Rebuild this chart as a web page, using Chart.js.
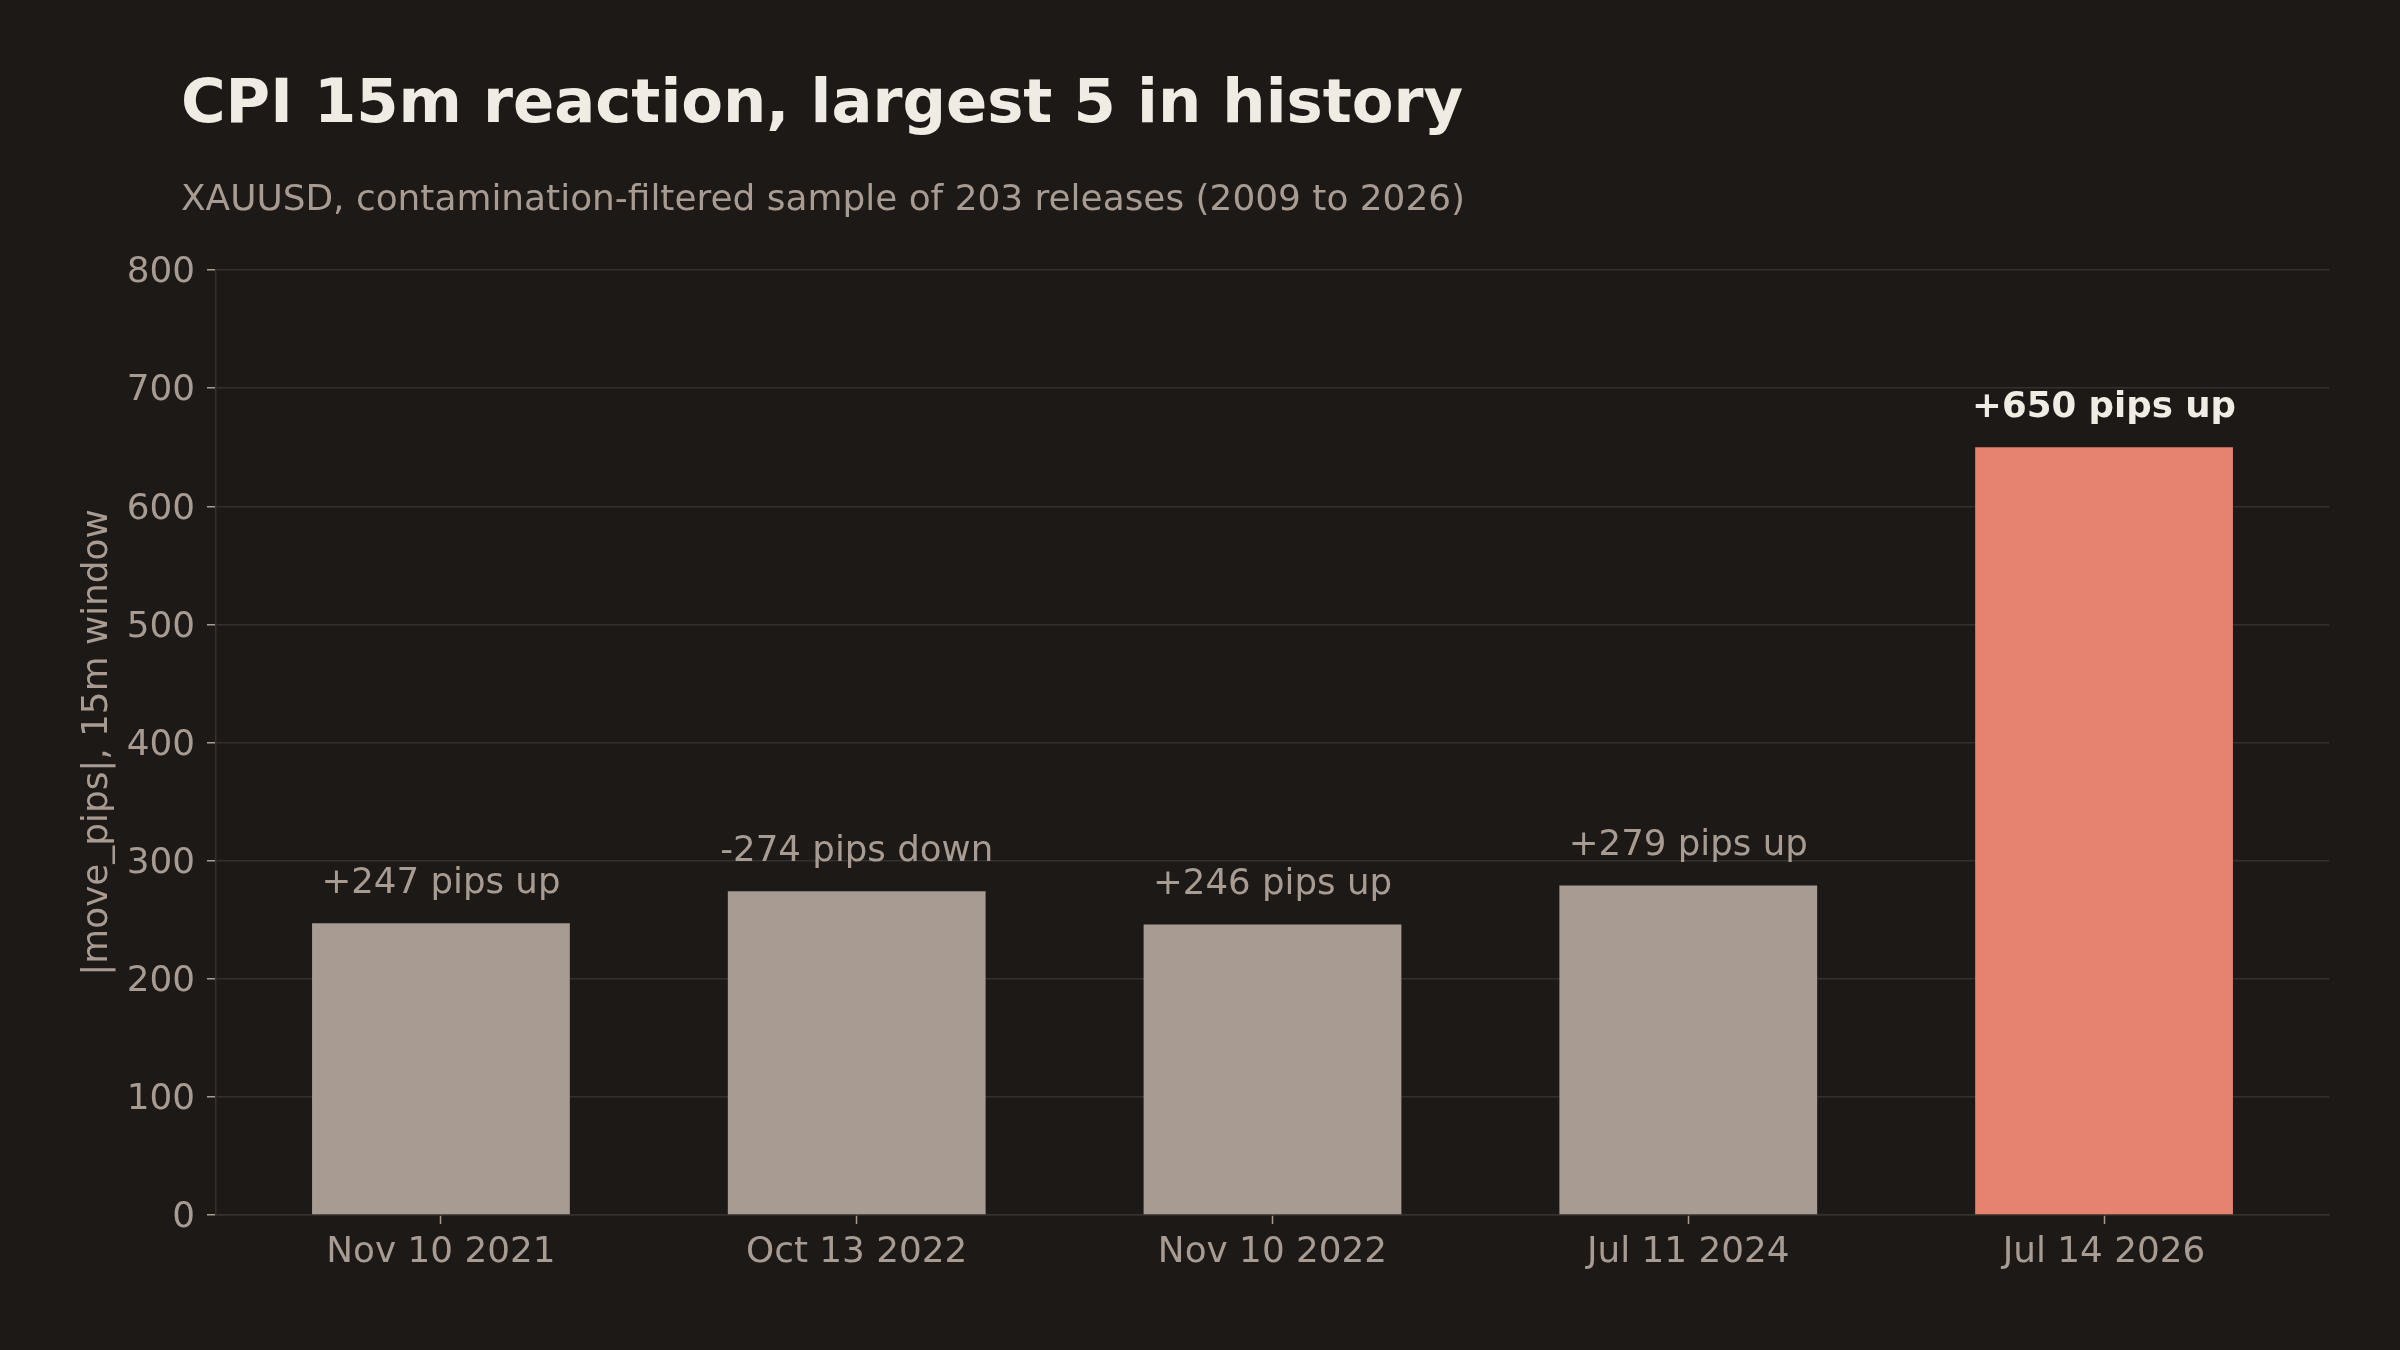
<!DOCTYPE html>
<html>
<head>
<meta charset="utf-8">
<script src="https://cdn.jsdelivr.net/npm/chart.js@4/dist/chart.umd.min.js"></script>
<style>
  html, body { margin: 0; padding: 0; background: #1c1917; }
  #wrap { width: 2400px; height: 1350px; position: relative; }
</style>
</head>
<body>
<div id="wrap"><canvas id="cpiChart"></canvas></div>
<script>
// data
const dates = ['Nov 10 2021', 'Oct 13 2022', 'Nov 10 2022', 'Jul 11 2024', 'Jul 14 2026'];
const movePips = [247, 274, 246, 279, 650];
const moveLabels = ['+247 pips up', '-274 pips down', '+246 pips up', '+279 pips up', '+650 pips up'];
const highlight = [false, false, false, false, true];
const yTicks = [0, 100, 200, 300, 400, 500, 600, 700, 800];

const titleText = 'CPI 15m reaction, largest 5 in history';
const subtitleText = 'XAUUSD, contamination-filtered sample of 203 releases (2009 to 2026)';
const yTitle = '|move_pips|, 15m window';

const bg = '#1c1917';
const muted = '#a89c92';
const light = '#f0ebe3';
const coral = '#e58270';
const gridColor = '#34302c';
const font = '"DejaVu Sans", sans-serif';

// title + subtitle drawn on the canvas
const headerPlugin = {
    id: 'header',
    beforeDraw(chart) {
        const ctx = chart.ctx;
        ctx.save();
        ctx.fillStyle = bg;
        ctx.fillRect(0, 0, chart.width, chart.height);
        ctx.textAlign = 'left';
        ctx.textBaseline = 'alphabetic';
        ctx.fillStyle = light;
        ctx.font = 'bold 60.8px ' + font;
        ctx.fillText(titleText, 181, 122);
        ctx.fillStyle = muted;
        ctx.font = '35.9px ' + font;
        ctx.fillText(subtitleText, 181, 210);
        ctx.restore();
    }
};

// text labels above each bar
const barLabelPlugin = {
    id: 'barLabels',
    afterDatasetsDraw(chart) {
        const ctx = chart.ctx;
        const meta = chart.getDatasetMeta(0);
        ctx.save();
        ctx.textAlign = 'center';
        ctx.textBaseline = 'alphabetic';
        meta.data.forEach((bar, i) => {
            ctx.fillStyle = highlight[i] ? light : muted;
            ctx.font = (highlight[i] ? 'bold ' : '') + '35.6px ' + font;
            ctx.fillText(moveLabels[i], bar.x, bar.y - 30);
        });
        ctx.restore();
    }
};

const ctx = document.getElementById('cpiChart').getContext('2d');
new Chart(ctx, {
    type: 'bar',
    data: {
        datasets: [{
            data: movePips.map((v, i) => ({ x: i, y: v })),
            backgroundColor: highlight.map(h => h ? coral : muted),
            borderWidth: 0,
            categoryPercentage: 1,
            barPercentage: 0.62
        }]
    },
    options: {
        responsive: true,
        maintainAspectRatio: false,
        animation: false,
        devicePixelRatio: 1,
        layout: { padding: { left: 0, right: 71, top: 270, bottom: 0 } },
        plugins: {
            legend: { display: false },
            tooltip: { enabled: false }
        },
        scales: {
            x: {
                type: 'linear',
                min: -0.541,
                max: 4.541,
                offset: false,
                afterBuildTicks: scale => { scale.ticks = dates.map((d, i) => ({ value: i })); },
                afterFit: scale => { scale.height = 135; },
                grid: {
                    offset: false,
                    drawOnChartArea: false,
                    drawTicks: true,
                    tickLength: 9,
                    tickColor: muted,
                    tickWidth: 1.5
                },
                border: { color: gridColor, width: 1.5 },
                ticks: {
                    color: muted,
                    font: { family: font, size: 35.8 },
                    padding: 7,
                    maxRotation: 0,
                    autoSkip: false,
                    callback: v => dates[v]
                }
            },
            y: {
                min: 0,
                max: 800,
                afterBuildTicks: scale => { scale.ticks = yTicks.map(v => ({ value: v })); },
                afterFit: scale => { scale.width = 216; },
                grid: {
                    color: gridColor,
                    lineWidth: 1.5,
                    drawTicks: true,
                    tickLength: 9,
                    tickColor: muted,
                    tickWidth: 1.5
                },
                border: { color: gridColor, width: 1.5 },
                ticks: {
                    color: muted,
                    font: { family: font, size: 35.8 },
                    padding: 12,
                    labelOffset: 3
                },
                title: {
                    display: true,
                    text: yTitle,
                    color: muted,
                    font: { family: font, size: 35.8 },
                    padding: { top: 76, bottom: 0 }
                }
            }
        }
    },
    plugins: [headerPlugin, barLabelPlugin]
});
</script>
</body>
</html>
